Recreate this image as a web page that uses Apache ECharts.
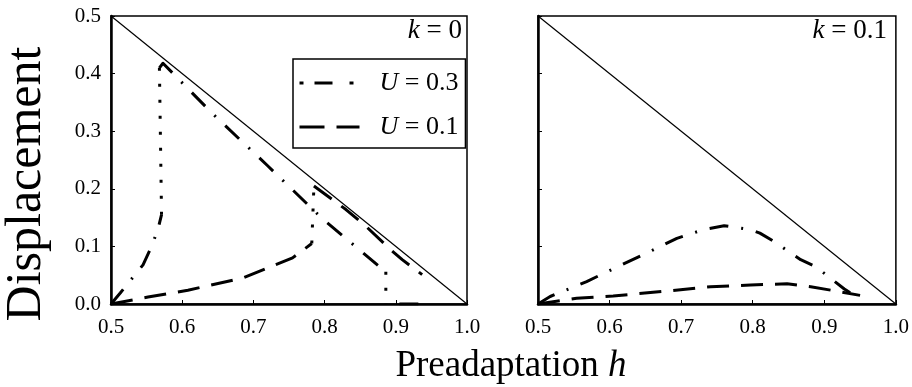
<!DOCTYPE html>
<html>
<head>
<meta charset="utf-8">
<script src="https://cdn.jsdelivr.net/npm/echarts@6/dist/echarts.min.js"></script>
<style>html,body{margin:0;padding:0;background:#fff}#c{width:912px;height:387px}</style>
</head>
<body>
<div id="c"></div>
<script>
// ---- data ----
const xTickValues = [0.5, 0.6, 0.7, 0.8, 0.9, 1.0];
const yTickValues = [0.0, 0.1, 0.2, 0.3, 0.4, 0.5];
const diagonal = [[0.5, 0.5], [1.0, 0.0]];

// k = 0, U = 0.3
const k0U03Rise = [[0.5, 0.0], [0.513, 0.019], [0.545, 0.068], [0.557, 0.10], [0.566, 0.13], [0.571, 0.155]];
const k0U03Jump = [[0.571, 0.155], [0.568, 0.41]];
const k0U03Fall = [[0.568, 0.41], [0.573, 0.418], [0.643, 0.33], [0.72, 0.24], [0.797, 0.148], [0.872, 0.07], [0.886, 0.056]];
const k0U03Drop = [[0.886, 0.056], [0.886, 0.0]];
const k0U03Tail = [[0.905, 0.0], [0.937, 0.0]];

// k = 0, U = 0.1
const k0U01Rise = [[0.5, 0.0], [0.552, 0.012], [0.608, 0.024], [0.685, 0.045], [0.755, 0.08], [0.782, 0.105]];
const k0U01Jump = [[0.782, 0.105], [0.785, 0.205]];
const k0U01Fall = [[0.785, 0.205], [0.83, 0.164], [0.858, 0.135], [0.893, 0.094], [0.909, 0.077], [0.937, 0.051]];

// k = 0.1
const k1U03 = [[0.5, 0.0], [0.517, 0.013], [0.568, 0.039], [0.617, 0.068], [0.661, 0.094], [0.694, 0.114], [0.731, 0.129], [0.76, 0.136], [0.797, 0.129], [0.81, 0.123], [0.829, 0.109], [0.867, 0.077], [0.888, 0.065], [0.928, 0.026], [0.945, 0.012]];
const k1U01 = [[0.5, 0.0], [0.554, 0.01], [0.605, 0.014], [0.685, 0.023], [0.741, 0.03], [0.797, 0.033], [0.848, 0.035], [0.881, 0.03], [0.923, 0.021], [0.95, 0.015]];

const legendNames = ['U = 0.3', 'U = 0.1'];
const panelLabels = ['0', '0.1'];

// ---- styles ----
const FONT = '"Liberation Serif", "Times New Roman", serif';
const dashDot = [19, 13, 2, 13];
const dashed = [22, 12];
const dotted = [3, 13];

function line(name, data, gi, type, width) {
  return {
    name: name, type: 'line', data: data, xAxisIndex: gi, yAxisIndex: gi,
    symbol: 'none', silent: true, animation: false, z: 3,
    lineStyle: { color: '#000', width: width || 3, type: type, cap: 'butt', join: 'round' }
  };
}

function xAxis(gi) {
  return {
    gridIndex: gi, type: 'value', min: 0.5, max: 1.0, interval: 0.1,
    axisLine: { show: true, onZero: false, lineStyle: { color: '#000', width: 2.5 } },
    axisTick: { show: true, inside: true, length: 4, lineStyle: { color: '#000', width: 1 } },
    axisLabel: { show: true, margin: 13, color: '#000', fontFamily: FONT, fontSize: 21,
      showMinLabel: true, showMaxLabel: true, formatter: v => v.toFixed(1) },
    splitLine: { show: false }
  };
}
function yAxis(gi, labels) {
  return {
    gridIndex: gi, type: 'value', min: 0, max: 0.5, interval: 0.1,
    axisLine: { show: true, onZero: false, lineStyle: { color: '#000', width: 2.5 } },
    axisTick: { show: true, inside: true, length: 4, lineStyle: { color: '#000', width: 1 } },
    axisLabel: { show: labels, margin: 10, color: '#000', fontFamily: FONT, fontSize: 21,
      showMinLabel: true, showMaxLabel: true, formatter: v => v.toFixed(1) },
    splitLine: { show: false }
  };
}

const chart = echarts.init(document.getElementById('c'), null, { renderer: 'canvas' });
chart.setOption({
  backgroundColor: '#fff',
  animation: false,
  grid: [
    { left: 111, top: 16, width: 356, height: 288, show: true, borderColor: '#000', borderWidth: 1.5 },
    { left: 538, top: 16, width: 358, height: 288, show: true, borderColor: '#000', borderWidth: 1.5 }
  ],
  xAxis: [xAxis(0), xAxis(1)],
  yAxis: [yAxis(0, true), yAxis(1, false)],
  title: {
    text: '{a|Preadaptation }{i|h}', left: 506, top: 343, textAlign: 'center',
    textStyle: { fontWeight: 'normal', rich: {
      a: { fontFamily: FONT, fontSize: 37, fontWeight: 'normal', color: '#000' },
      i: { fontFamily: FONT, fontSize: 37, fontWeight: 'normal', fontStyle: 'italic', color: '#000' }
    } }
  },
  legend: {
    orient: 'vertical', left: 293, top: 59,
    padding: [11, 7, 8, 5], itemGap: 18, itemWidth: 60, itemHeight: 20,
    borderColor: '#000', borderWidth: 1.5, backgroundColor: '#fff',
    selectedMode: false,
    itemStyle: { color: 'rgba(0,0,0,0)', borderWidth: 0 },
    data: [
      { name: legendNames[0], lineStyle: { color: '#000', width: 3, type: [4, 11, 18, 17, 4, 100], cap: 'butt' } },
      { name: legendNames[1], lineStyle: { color: '#000', width: 3, type: [25, 12, 23, 100], cap: 'butt' } }
    ],
    formatter: n => '{sp|}{i|U}{t| = ' + n.split('= ')[1] + '}',
    textStyle: { rich: {
      sp: { width: 15 },
      i: { fontFamily: FONT, fontSize: 26, fontStyle: 'italic', color: '#000' },
      t: { fontFamily: FONT, fontSize: 26, color: '#000' }
    } }
  },
  graphic: [
    { type: 'text', x: 27, y: 184, rotation: Math.PI / 2,
      style: { text: 'Displacement', font: '50px ' + FONT, fill: '#000', align: 'center', verticalAlign: 'middle' } },
    { type: 'text', x: 462, y: 31,
      style: { text: '{i|k}{t| = ' + panelLabels[0] + '}', align: 'right', verticalAlign: 'middle',
        rich: { i: { font: 'italic 27px ' + FONT, fill: '#000' }, t: { font: '27px ' + FONT, fill: '#000' } } } },
    { type: 'text', x: 887, y: 31,
      style: { text: '{i|k}{t| = ' + panelLabels[1] + '}', align: 'right', verticalAlign: 'middle',
        rich: { i: { font: 'italic 27px ' + FONT, fill: '#000' }, t: { font: '27px ' + FONT, fill: '#000' } } } }
  ],
  series: [
    line(legendNames[0], k0U03Rise, 0, dashDot),
    line(legendNames[1], k0U01Rise, 0, dashed),
    line('diag0', diagonal, 0, 'solid', 1.2),
    line('k0U03Jump', k0U03Jump, 0, dotted),
    line('k0U03Fall', k0U03Fall, 0, dashDot),
    line('k0U03Drop', k0U03Drop, 0, dotted),
    line('k0U03Tail', k0U03Tail, 0, dashDot),
    line('k0U01Jump', k0U01Jump, 0, dotted),
    line('k0U01Fall', k0U01Fall, 0, dashed),
    line('diag1', diagonal, 1, 'solid', 1.2),
    line('k1U03', k1U03, 1, dashDot),
    line('k1U01', k1U01, 1, dashed)
  ]
});
</script>
</body>
</html>
